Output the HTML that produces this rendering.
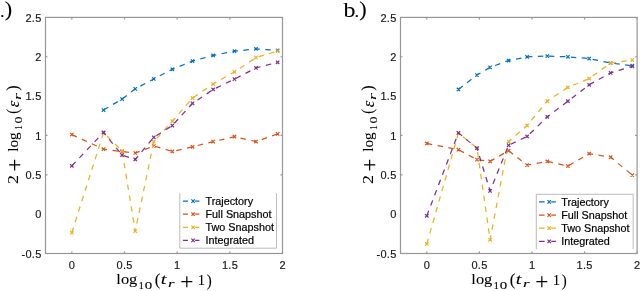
<!DOCTYPE html>
<html><head><meta charset="utf-8"><style>
html,body{margin:0;padding:0;background:#fff;}
svg{display:block;will-change:transform;}
.tk{font-family:"Liberation Sans",sans-serif;font-size:11px;letter-spacing:0.3px;fill:#1a1a1a;stroke:#000;stroke-width:0.15px;}
.lg{font-family:"Liberation Sans",sans-serif;font-size:10.8px;fill:#000;stroke:#000;stroke-width:0.2px;}
.rm{font-family:"Liberation Serif",serif;fill:#000;stroke:#000;stroke-width:0.08px;}
.it{font-family:"Liberation Serif",serif;font-style:italic;fill:#000;stroke:#000;stroke-width:0.08px;}
</style></head><body>
<svg width="640" height="291" viewBox="0 0 640 291">
<path d="M103.54,110.03 L122.08,99.01 L135.24,88.86 L153.78,78.94 L172.32,69.34 L192.55,61.08 L213.19,55.41 L234.47,51.24 L255.96,48.88 L277.65,50.45" fill="none" stroke="#0072BD" stroke-width="1.25" stroke-dasharray="5.5,5.5"/>
<path d="M101.84,108.33 l3.40,3.40 M101.84,111.73 l3.40,-3.40M120.38,97.31 l3.40,3.40 M120.38,100.71 l3.40,-3.40M133.54,87.16 l3.40,3.40 M133.54,90.56 l3.40,-3.40M152.08,77.24 l3.40,3.40 M152.08,80.64 l3.40,-3.40M170.62,67.64 l3.40,3.40 M170.62,71.04 l3.40,-3.40M190.85,59.38 l3.40,3.40 M190.85,62.78 l3.40,-3.40M211.49,53.71 l3.40,3.40 M211.49,57.11 l3.40,-3.40M232.77,49.54 l3.40,3.40 M232.77,52.94 l3.40,-3.40M254.26,47.18 l3.40,3.40 M254.26,50.58 l3.40,-3.40M275.95,48.75 l3.40,3.40 M275.95,52.15 l3.40,-3.40" fill="none" stroke="#0072BD" stroke-width="1.2"/>
<path d="M71.83,134.58 L103.54,149.14 L122.08,151.58 L135.24,153.00 L153.78,146.00 L172.32,151.43 L192.55,146.78 L213.19,141.59 L234.47,136.71 L255.96,141.59 L277.65,133.88" fill="none" stroke="#D95319" stroke-width="1.25" stroke-dasharray="5.5,5.5"/>
<path d="M70.13,132.88 l3.40,3.40 M70.13,136.28 l3.40,-3.40M101.84,147.44 l3.40,3.40 M101.84,150.84 l3.40,-3.40M120.38,149.88 l3.40,3.40 M120.38,153.28 l3.40,-3.40M133.54,151.30 l3.40,3.40 M133.54,154.70 l3.40,-3.40M152.08,144.30 l3.40,3.40 M152.08,147.70 l3.40,-3.40M170.62,149.73 l3.40,3.40 M170.62,153.13 l3.40,-3.40M190.85,145.08 l3.40,3.40 M190.85,148.48 l3.40,-3.40M211.49,139.89 l3.40,3.40 M211.49,143.29 l3.40,-3.40M232.77,135.01 l3.40,3.40 M232.77,138.41 l3.40,-3.40M254.26,139.89 l3.40,3.40 M254.26,143.29 l3.40,-3.40M275.95,132.18 l3.40,3.40 M275.95,135.58 l3.40,-3.40" fill="none" stroke="#D95319" stroke-width="1.2"/>
<path d="M71.83,232.72 L103.54,132.70 L122.08,150.88 L135.24,231.15 L153.78,141.67 L172.32,121.21 L192.55,98.07 L213.19,84.06 L234.47,71.86 L255.96,57.62 L277.65,51.00" fill="none" stroke="#EDB120" stroke-width="1.25" stroke-dasharray="5.5,5.5"/>
<path d="M70.13,231.02 l3.40,3.40 M70.13,234.42 l3.40,-3.40M101.84,131.00 l3.40,3.40 M101.84,134.40 l3.40,-3.40M120.38,149.18 l3.40,3.40 M120.38,152.58 l3.40,-3.40M133.54,229.45 l3.40,3.40 M133.54,232.85 l3.40,-3.40M152.08,139.97 l3.40,3.40 M152.08,143.37 l3.40,-3.40M170.62,119.51 l3.40,3.40 M170.62,122.91 l3.40,-3.40M190.85,96.37 l3.40,3.40 M190.85,99.77 l3.40,-3.40M211.49,82.36 l3.40,3.40 M211.49,85.76 l3.40,-3.40M232.77,70.16 l3.40,3.40 M232.77,73.56 l3.40,-3.40M254.26,55.92 l3.40,3.40 M254.26,59.32 l3.40,-3.40M275.95,49.30 l3.40,3.40 M275.95,52.70 l3.40,-3.40" fill="none" stroke="#EDB120" stroke-width="1.2"/>
<path d="M71.83,165.83 L103.54,132.46 L122.08,155.05 L135.24,159.45 L153.78,137.34 L172.32,125.53 L192.55,103.26 L213.19,89.49 L234.47,79.10 L255.96,67.93 L277.65,62.34" fill="none" stroke="#7E2F8E" stroke-width="1.25" stroke-dasharray="5.5,5.5"/>
<path d="M70.13,164.13 l3.40,3.40 M70.13,167.53 l3.40,-3.40M101.84,130.76 l3.40,3.40 M101.84,134.16 l3.40,-3.40M120.38,153.35 l3.40,3.40 M120.38,156.75 l3.40,-3.40M133.54,157.75 l3.40,3.40 M133.54,161.15 l3.40,-3.40M152.08,135.64 l3.40,3.40 M152.08,139.04 l3.40,-3.40M170.62,123.83 l3.40,3.40 M170.62,127.23 l3.40,-3.40M190.85,101.56 l3.40,3.40 M190.85,104.96 l3.40,-3.40M211.49,87.79 l3.40,3.40 M211.49,91.19 l3.40,-3.40M232.77,77.40 l3.40,3.40 M232.77,80.80 l3.40,-3.40M254.26,66.23 l3.40,3.40 M254.26,69.63 l3.40,-3.40M275.95,60.64 l3.40,3.40 M275.95,64.04 l3.40,-3.40" fill="none" stroke="#7E2F8E" stroke-width="1.2"/>
<rect x="45.50" y="17.40" width="237.00" height="236.10" fill="none" stroke="#969696" stroke-width="1.2"/>
<path d="M71.83,253.50 v-2.00 M71.83,17.40 v2.00 M124.50,253.50 v-2.00 M124.50,17.40 v2.00 M177.17,253.50 v-2.00 M177.17,17.40 v2.00 M229.83,253.50 v-2.00 M229.83,17.40 v2.00 M282.50,253.50 v-2.00 M282.50,17.40 v2.00 M45.50,174.80 h2.00 M282.50,174.80 h-2.00 M45.50,135.45 h2.00 M282.50,135.45 h-2.00 M45.50,56.75 h2.00 M282.50,56.75 h-2.00 " stroke="#969696" stroke-width="1.2"/>
<text x="41.60" y="257.70" text-anchor="end" class="tk">-0.5</text>
<text x="41.60" y="218.35" text-anchor="end" class="tk">0</text>
<text x="41.60" y="179.00" text-anchor="end" class="tk">0.5</text>
<text x="41.60" y="139.65" text-anchor="end" class="tk">1</text>
<text x="41.60" y="100.30" text-anchor="end" class="tk">1.5</text>
<text x="41.60" y="60.95" text-anchor="end" class="tk">2</text>
<text x="41.60" y="21.60" text-anchor="end" class="tk">2.5</text>
<text x="71.98" y="268.60" text-anchor="middle" class="tk">0</text>
<text x="124.65" y="268.60" text-anchor="middle" class="tk">0.5</text>
<text x="177.32" y="268.60" text-anchor="middle" class="tk">1</text>
<text x="229.98" y="268.60" text-anchor="middle" class="tk">1.5</text>
<text x="282.65" y="268.60" text-anchor="middle" class="tk">2</text>
<rect x="179.80" y="193.30" width="96.70" height="54.90" fill="#fff" stroke="none"/>
<path d="M179.80,193.30 V248.20 M276.50,193.30 V248.20 M179.80,248.20 H276.50" fill="none" stroke="#b4b4b4" stroke-width="0.9"/>
<path d="M182.90,201.10 H188.00 M195.10,201.10 H199.40" stroke="#0072BD" stroke-width="1.25"/>
<path d="M191.40,199.40 l3.40,3.40 M191.40,202.80 l3.40,-3.40" stroke="#0072BD" stroke-width="1.2"/>
<text x="205.50" y="205.00" class="lg">Trajectory</text>
<path d="M182.90,214.20 H188.00 M195.10,214.20 H199.40" stroke="#D95319" stroke-width="1.25"/>
<path d="M191.40,212.50 l3.40,3.40 M191.40,215.90 l3.40,-3.40" stroke="#D95319" stroke-width="1.2"/>
<text x="205.50" y="218.10" class="lg">Full Snapshot</text>
<path d="M182.90,227.30 H188.00 M195.10,227.30 H199.40" stroke="#EDB120" stroke-width="1.25"/>
<path d="M191.40,225.60 l3.40,3.40 M191.40,229.00 l3.40,-3.40" stroke="#EDB120" stroke-width="1.2"/>
<text x="205.50" y="231.20" class="lg">Two Snapshot</text>
<path d="M182.90,240.40 H188.00 M195.10,240.40 H199.40" stroke="#7E2F8E" stroke-width="1.25"/>
<path d="M191.40,238.70 l3.40,3.40 M191.40,242.10 l3.40,-3.40" stroke="#7E2F8E" stroke-width="1.2"/>
<text x="205.50" y="244.30" class="lg">Integrated</text>
<g transform="translate(0.00,0)"><text transform="translate(116.37,284.46) scale(1.120,1)" class="rm" font-size="14.62">log</text><text transform="translate(138.47,289.40) scale(1.036,1)" class="rm" font-size="10.61">1</text><text transform="translate(144.80,289.30) scale(1.446,1)" class="rm" font-size="10.37">0</text><text transform="translate(154.84,285.34) scale(0.990,1)" class="rm" font-size="17.03">(</text><text transform="translate(160.78,284.45) scale(1.363,1)" class="it" font-size="14.96">t</text><text transform="translate(167.91,287.20) scale(1.679,1)" class="it" font-size="10.21">r</text><text transform="translate(180.24,288.78) scale(1.011,1)" class="rm" font-size="22.98">+</text><text transform="translate(197.85,284.60) scale(1.074,1)" class="rm" font-size="13.64">1</text><text transform="translate(206.75,285.71) scale(0.875,1)" class="rm" font-size="17.14">)</text></g>
<g transform="translate(0.00,200.00) rotate(-90)"><text transform="translate(16.10,18.00) scale(1.195,1)" class="rm" font-size="14.85">2</text><text transform="translate(28.68,21.70) scale(1.011,1)" class="rm" font-size="22.13">+</text><text transform="translate(48.20,18.34) scale(1.005,1)" class="rm" font-size="15.16">log</text><text transform="translate(70.13,22.20) scale(0.826,1)" class="rm" font-size="10.91">1</text><text transform="translate(76.54,22.09) scale(1.317,1)" class="rm" font-size="10.67">0</text><text transform="translate(86.23,18.19) scale(0.886,1)" class="rm" font-size="16.81">(</text><text transform="translate(92.87,18.74) scale(1.001,1)" class="it" font-size="16.25">ε</text><text transform="translate(99.99,20.60) scale(1.665,1)" class="it" font-size="10.64">r</text><text transform="translate(109.22,18.19) scale(0.961,1)" class="rm" font-size="16.81">)</text></g>
<path d="M458.44,89.41 L476.95,75.01 L490.09,67.30 L508.60,60.53 L527.11,56.99 L547.30,56.04 L567.91,56.83 L589.15,58.56 L610.60,63.05 L632.26,65.72" fill="none" stroke="#0072BD" stroke-width="1.25" stroke-dasharray="5.5,5.5"/>
<path d="M456.74,87.71 l3.40,3.40 M456.74,91.11 l3.40,-3.40M475.25,73.31 l3.40,3.40 M475.25,76.71 l3.40,-3.40M488.39,65.60 l3.40,3.40 M488.39,69.00 l3.40,-3.40M506.90,58.83 l3.40,3.40 M506.90,62.23 l3.40,-3.40M525.41,55.29 l3.40,3.40 M525.41,58.69 l3.40,-3.40M545.60,54.34 l3.40,3.40 M545.60,57.74 l3.40,-3.40M566.21,55.13 l3.40,3.40 M566.21,58.53 l3.40,-3.40M587.45,56.86 l3.40,3.40 M587.45,60.26 l3.40,-3.40M608.90,61.35 l3.40,3.40 M608.90,64.75 l3.40,-3.40M630.56,64.02 l3.40,3.40 M630.56,67.42 l3.40,-3.40" fill="none" stroke="#0072BD" stroke-width="1.2"/>
<path d="M426.79,143.48 L458.44,149.69 L476.95,159.61 L490.09,161.34 L508.60,150.72 L527.11,165.12 L547.30,161.42 L567.91,166.06 L589.15,153.63 L610.60,157.17 L632.26,175.11" fill="none" stroke="#D95319" stroke-width="1.25" stroke-dasharray="5.5,5.5"/>
<path d="M425.09,141.78 l3.40,3.40 M425.09,145.18 l3.40,-3.40M456.74,147.99 l3.40,3.40 M456.74,151.39 l3.40,-3.40M475.25,157.91 l3.40,3.40 M475.25,161.31 l3.40,-3.40M488.39,159.64 l3.40,3.40 M488.39,163.04 l3.40,-3.40M506.90,149.02 l3.40,3.40 M506.90,152.42 l3.40,-3.40M525.41,163.42 l3.40,3.40 M525.41,166.82 l3.40,-3.40M545.60,159.72 l3.40,3.40 M545.60,163.12 l3.40,-3.40M566.21,164.36 l3.40,3.40 M566.21,167.76 l3.40,-3.40M587.45,151.93 l3.40,3.40 M587.45,155.33 l3.40,-3.40M608.90,155.47 l3.40,3.40 M608.90,158.87 l3.40,-3.40M630.56,173.41 l3.40,3.40 M630.56,176.81 l3.40,-3.40" fill="none" stroke="#D95319" stroke-width="1.2"/>
<path d="M426.79,243.98 L458.44,133.17 L476.95,148.04 L490.09,239.81 L508.60,141.51 L527.11,125.46 L547.30,101.06 L567.91,87.29 L589.15,78.71 L610.60,63.05 L632.26,60.13" fill="none" stroke="#EDB120" stroke-width="1.25" stroke-dasharray="5.5,5.5"/>
<path d="M425.09,242.28 l3.40,3.40 M425.09,245.68 l3.40,-3.40M456.74,131.47 l3.40,3.40 M456.74,134.87 l3.40,-3.40M475.25,146.34 l3.40,3.40 M475.25,149.74 l3.40,-3.40M488.39,238.11 l3.40,3.40 M488.39,241.51 l3.40,-3.40M506.90,139.81 l3.40,3.40 M506.90,143.21 l3.40,-3.40M525.41,123.76 l3.40,3.40 M525.41,127.16 l3.40,-3.40M545.60,99.36 l3.40,3.40 M545.60,102.76 l3.40,-3.40M566.21,85.59 l3.40,3.40 M566.21,88.99 l3.40,-3.40M587.45,77.01 l3.40,3.40 M587.45,80.41 l3.40,-3.40M608.90,61.35 l3.40,3.40 M608.90,64.75 l3.40,-3.40M630.56,58.43 l3.40,3.40 M630.56,61.83 l3.40,-3.40" fill="none" stroke="#EDB120" stroke-width="1.2"/>
<path d="M426.79,215.80 L458.44,132.85 L476.95,148.20 L490.09,190.85 L508.60,145.29 L527.11,136.47 L547.30,116.80 L567.91,101.22 L589.15,84.77 L610.60,72.88 L632.26,66.35" fill="none" stroke="#7E2F8E" stroke-width="1.25" stroke-dasharray="5.5,5.5"/>
<path d="M425.09,214.10 l3.40,3.40 M425.09,217.50 l3.40,-3.40M456.74,131.15 l3.40,3.40 M456.74,134.55 l3.40,-3.40M475.25,146.50 l3.40,3.40 M475.25,149.90 l3.40,-3.40M488.39,189.15 l3.40,3.40 M488.39,192.55 l3.40,-3.40M506.90,143.59 l3.40,3.40 M506.90,146.99 l3.40,-3.40M525.41,134.77 l3.40,3.40 M525.41,138.17 l3.40,-3.40M545.60,115.10 l3.40,3.40 M545.60,118.50 l3.40,-3.40M566.21,99.52 l3.40,3.40 M566.21,102.92 l3.40,-3.40M587.45,83.07 l3.40,3.40 M587.45,86.47 l3.40,-3.40M608.90,71.18 l3.40,3.40 M608.90,74.58 l3.40,-3.40M630.56,64.65 l3.40,3.40 M630.56,68.05 l3.40,-3.40" fill="none" stroke="#7E2F8E" stroke-width="1.2"/>
<rect x="400.50" y="17.40" width="236.60" height="236.10" fill="none" stroke="#969696" stroke-width="1.2"/>
<path d="M426.79,253.50 v-2.00 M426.79,17.40 v2.00 M479.37,253.50 v-2.00 M479.37,17.40 v2.00 M531.94,253.50 v-2.00 M531.94,17.40 v2.00 M584.52,253.50 v-2.00 M584.52,17.40 v2.00 M637.10,253.50 v-2.00 M637.10,17.40 v2.00 M400.50,174.80 h2.00 M637.10,174.80 h-2.00 M400.50,135.45 h2.00 M637.10,135.45 h-2.00 M400.50,56.75 h2.00 M637.10,56.75 h-2.00 " stroke="#969696" stroke-width="1.2"/>
<text x="396.60" y="257.70" text-anchor="end" class="tk">-0.5</text>
<text x="396.60" y="218.35" text-anchor="end" class="tk">0</text>
<text x="396.60" y="179.00" text-anchor="end" class="tk">0.5</text>
<text x="396.60" y="139.65" text-anchor="end" class="tk">1</text>
<text x="396.60" y="100.30" text-anchor="end" class="tk">1.5</text>
<text x="396.60" y="60.95" text-anchor="end" class="tk">2</text>
<text x="396.60" y="21.60" text-anchor="end" class="tk">2.5</text>
<text x="426.94" y="268.60" text-anchor="middle" class="tk">0</text>
<text x="479.52" y="268.60" text-anchor="middle" class="tk">0.5</text>
<text x="532.09" y="268.60" text-anchor="middle" class="tk">1</text>
<text x="584.67" y="268.60" text-anchor="middle" class="tk">1.5</text>
<text x="637.25" y="268.60" text-anchor="middle" class="tk">2</text>
<rect x="536.30" y="194.30" width="96.90" height="54.90" fill="#fff" stroke="none"/>
<path d="M536.30,194.30 V249.20 M633.20,194.30 V249.20 M536.30,194.30 H633.20" fill="none" stroke="#b4b4b4" stroke-width="0.9"/>
<path d="M539.00,201.90 H544.60 M551.20,201.90 H555.90" stroke="#0072BD" stroke-width="1.25"/>
<path d="M547.50,200.20 l3.40,3.40 M547.50,203.60 l3.40,-3.40" stroke="#0072BD" stroke-width="1.2"/>
<text x="561.20" y="205.80" class="lg">Trajectory</text>
<path d="M539.00,215.10 H544.60 M551.20,215.10 H555.90" stroke="#D95319" stroke-width="1.25"/>
<path d="M547.50,213.40 l3.40,3.40 M547.50,216.80 l3.40,-3.40" stroke="#D95319" stroke-width="1.2"/>
<text x="561.20" y="219.00" class="lg">Full Snapshot</text>
<path d="M539.00,228.20 H544.60 M551.20,228.20 H555.90" stroke="#EDB120" stroke-width="1.25"/>
<path d="M547.50,226.50 l3.40,3.40 M547.50,229.90 l3.40,-3.40" stroke="#EDB120" stroke-width="1.2"/>
<text x="561.20" y="232.10" class="lg">Two Snapshot</text>
<path d="M539.00,241.40 H544.60 M551.20,241.40 H555.90" stroke="#7E2F8E" stroke-width="1.25"/>
<path d="M547.50,239.70 l3.40,3.40 M547.50,243.10 l3.40,-3.40" stroke="#7E2F8E" stroke-width="1.2"/>
<text x="561.20" y="245.30" class="lg">Integrated</text>
<g transform="translate(355.00,0)"><text transform="translate(116.37,284.46) scale(1.120,1)" class="rm" font-size="14.62">log</text><text transform="translate(138.47,289.40) scale(1.036,1)" class="rm" font-size="10.61">1</text><text transform="translate(144.80,289.30) scale(1.446,1)" class="rm" font-size="10.37">0</text><text transform="translate(154.84,285.34) scale(0.990,1)" class="rm" font-size="17.03">(</text><text transform="translate(160.78,284.45) scale(1.363,1)" class="it" font-size="14.96">t</text><text transform="translate(167.91,287.20) scale(1.679,1)" class="it" font-size="10.21">r</text><text transform="translate(180.24,288.78) scale(1.011,1)" class="rm" font-size="22.98">+</text><text transform="translate(197.85,284.60) scale(1.074,1)" class="rm" font-size="13.64">1</text><text transform="translate(206.75,285.71) scale(0.875,1)" class="rm" font-size="17.14">)</text></g>
<g transform="translate(355.00,200.00) rotate(-90)"><text transform="translate(16.10,18.00) scale(1.195,1)" class="rm" font-size="14.85">2</text><text transform="translate(28.68,21.70) scale(1.011,1)" class="rm" font-size="22.13">+</text><text transform="translate(48.20,18.34) scale(1.005,1)" class="rm" font-size="15.16">log</text><text transform="translate(70.13,22.20) scale(0.826,1)" class="rm" font-size="10.91">1</text><text transform="translate(76.54,22.09) scale(1.317,1)" class="rm" font-size="10.67">0</text><text transform="translate(86.23,18.19) scale(0.886,1)" class="rm" font-size="16.81">(</text><text transform="translate(92.87,18.74) scale(1.001,1)" class="it" font-size="16.25">ε</text><text transform="translate(99.99,20.60) scale(1.665,1)" class="it" font-size="10.64">r</text><text transform="translate(109.22,18.19) scale(0.961,1)" class="rm" font-size="16.81">)</text></g>
<text transform="translate(343.40,16.79) scale(1.147,1)" class="rm" font-size="20.85">b</text><text transform="translate(354.61,16.75) scale(1.100,1)" class="rm" font-size="16.67">.</text><text transform="translate(359.23,16.12) scale(1.122,1)" class="rm" font-size="19.89">)</text>
<text transform="translate(-12.07,16.69) scale(0.909,1)" class="rm" font-size="30.62">a</text><text transform="translate(0.11,16.75) scale(1.100,1)" class="rm" font-size="16.67">.</text><text transform="translate(4.73,16.12) scale(1.122,1)" class="rm" font-size="19.89">)</text>
</svg>
</body></html>
